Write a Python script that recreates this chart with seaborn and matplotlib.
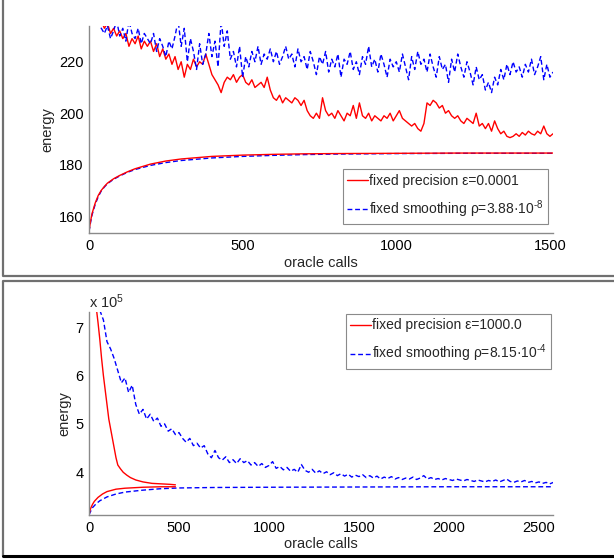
import numpy as np
import pandas as pd
import matplotlib
matplotlib.use("Agg")
import matplotlib.pyplot as plt
from matplotlib.lines import Line2D
import seaborn as sns

# ---- data ----
# top panel: noisy primal curves sampled every 10 oracle calls, from 30 to 1510
top_upper_start, top_step = 30, 10
top_red_upper = [
    238, 236, 233, 235, 231, 233, 230,
    232, 229, 231, 226, 229, 227, 230, 225, 228, 226,
    228, 224, 227, 222, 225, 221, 223, 219, 222, 217,
    220, 214, 219, 217, 221, 218, 220, 219, 223, 219,
    215, 213, 211, 208, 212, 214, 213, 215, 212, 214,
    215, 212, 211, 213, 210, 211, 212, 210, 214, 209,
    206, 205, 207, 204, 206, 205, 204, 206, 205, 203,
    205, 201, 199, 198, 200, 198, 206, 201, 199, 200,
    198, 201, 199, 197, 200, 199, 203, 198, 204, 199,
    198, 200, 197, 199, 198, 197, 199, 198, 200, 197,
    199, 201, 198, 197, 196, 195, 196, 194, 193, 196,
    204, 203, 205, 204, 202, 203, 200, 201, 199, 198,
    199, 197, 196, 198, 197, 196, 200, 195, 196, 194,
    196, 193, 197, 194, 192, 193, 191, 190.5, 191, 192,
    191, 192.5, 191.5, 193, 192, 191.5, 193, 192, 195, 192,
    191, 192,
]
top_blue_upper = [
    236, 233, 231, 234, 229, 232, 236,
    230, 233, 228, 236, 231, 229, 233, 227, 231, 229,
    227, 231, 224, 229, 226, 222, 228, 225, 230, 236,
    226, 233, 220, 229, 224, 217, 227, 219, 223, 231,
    222, 228, 218, 236, 226, 232, 221, 224, 218, 226,
    214, 222, 218, 224, 220, 226, 219, 223, 221, 225,
    220, 224, 219, 222, 226, 221, 223, 218, 225, 220,
    222, 217, 224, 220, 215, 222, 219, 224, 216, 221,
    218, 223, 214, 221, 219, 224, 217, 220, 215, 222,
    219, 226, 218, 221, 216, 223, 219, 214, 221, 218,
    220, 216, 223, 218, 213, 222, 217, 224, 219, 221,
    216, 223, 218, 214, 222, 217, 219, 212, 221, 216,
    223, 218, 214, 220, 216, 211, 218, 213, 215, 209,
    212, 208, 214, 211, 217, 213, 219, 215, 220, 216,
    218, 214, 219, 216, 221, 215, 218, 222, 213, 219,
    214, 216,
]
top_lower_x = [0, 5, 10, 20, 30, 40, 50, 60, 80, 100, 125, 150, 200, 250,
               300, 400, 500, 600, 700, 800, 1000, 1200, 1510]
top_red_lower = [154, 158, 161, 165, 168, 170, 171.5, 172.8, 174.5, 175.8, 177.2,
                 178.4, 180.2, 181.4, 182.2, 183.2, 183.7, 184.0, 184.2, 184.3,
                 184.4, 184.5, 184.5]
top_blue_lower = [154, 157.5, 160.5, 164.5, 167.5, 169.8, 171.3, 172.6, 174.3,
                  175.6, 177.0, 178.1, 179.7, 180.8, 181.6, 182.6, 183.2, 183.6,
                  183.9, 184.1, 184.3, 184.4, 184.4]

# bottom panel (energy in units of 1e5)
bot_red_upper_x = [42, 50, 60, 70, 80, 90, 100, 110, 120, 130, 140, 150, 160,
                   175, 190, 210, 230, 260, 300, 350, 400, 450, 480]
bot_red_upper = [7.35, 7.1, 6.75, 6.35, 6.0, 5.7, 5.4, 5.1, 4.9, 4.7, 4.5, 4.3,
                 4.15, 4.07, 4.0, 3.94, 3.89, 3.84, 3.80, 3.77, 3.76, 3.75, 3.74]
bot_red_lower_x = [0, 5, 10, 20, 30, 50, 75, 100, 150, 200, 250, 300, 400, 480]
bot_red_lower = [3.12, 3.2, 3.26, 3.34, 3.40, 3.48, 3.55, 3.60, 3.65, 3.67,
                 3.68, 3.69, 3.70, 3.70]
bot_blue_lower_x = [0, 10, 20, 40, 60, 100, 150, 200, 300, 400, 500, 700, 1000,
                    1500, 2000, 2580]
bot_blue_lower = [3.12, 3.2, 3.27, 3.35, 3.41, 3.49, 3.55, 3.59, 3.63, 3.66,
                  3.675, 3.685, 3.69, 3.695, 3.70, 3.70]
bot_blue_start, bot_step = 60, 20
bot_blue_upper = [
    7.35, 7.15, 6.7, 6.55, 6.35, 6.1, 5.85, 5.95, 5.65, 5.8,
    5.4, 5.2, 5.3, 5.1, 5.2, 5.05, 5.12, 4.95, 5.0, 4.85,
    4.9, 4.78, 4.82, 4.7, 4.62, 4.7, 4.55, 4.6, 4.5, 4.55,
    4.38, 4.3, 4.45, 4.3, 4.25, 4.32, 4.2, 4.26, 4.18, 4.28,
    4.2, 4.24, 4.15, 4.2, 4.12, 4.18, 4.1, 4.14, 4.22, 4.08,
    4.12, 4.05, 4.1, 4.02, 4.06, 4.0, 4.16, 4.04, 4.0, 4.06,
    3.98, 4.03, 3.97, 4.01, 3.95, 3.99, 3.93, 3.97, 3.92, 3.96,
    3.9, 3.94, 3.91, 3.95, 3.89, 3.93, 3.88, 3.92, 3.86, 3.9,
    3.87, 3.91, 3.86, 3.89, 3.85, 3.88, 3.86, 3.9, 3.85, 3.88,
    3.93, 3.86, 3.89, 3.85, 3.87, 3.84, 3.87, 3.85, 3.83, 3.86,
    3.84, 3.82, 3.85, 3.83, 3.81, 3.84, 3.82, 3.8, 3.83, 3.81,
    3.84, 3.8, 3.83, 3.86, 3.81, 3.79, 3.82, 3.8, 3.83, 3.79,
    3.81, 3.78, 3.8, 3.77, 3.79, 3.76, 3.79,
]

top_labels = ["fixed precision \u03b5=0.0001",
              "fixed smoothing \u03c1=3.88\u00b710$^{\\text{-8}}$"]
bot_labels = ["fixed precision \u03b5=1000.0",
              "fixed smoothing \u03c1=8.15\u00b710$^{\\text{-4}}$"]

# ---- style ----
sns.set_theme(style="white")
plt.rcParams['font.family'] = ['Liberation Sans', 'DejaVu Sans']
plt.rcParams['mathtext.fontset'] = 'custom'
plt.rcParams['mathtext.rm'] = 'Liberation Sans'
plt.rcParams['mathtext.it'] = 'Liberation Sans:italic'

RED = '#ff0000'
BLUE = '#0000ff'
GRAY = '#8a8a8a'
DASH = (3.5, 2)

W, H = 614, 560
fig = plt.figure(figsize=(W / 100, H / 100), dpi=100)


def px_axes(l, t, r, b):
    return fig.add_axes([l / W, 1 - b / H, (r - l) / W, (b - t) / H])


def arange_for(start, step, vals):
    return np.arange(len(vals)) * step + start


def style_axes(ax):
    sns.despine(ax=ax)
    for s in ['left', 'bottom']:
        ax.spines[s].set_color(GRAY)
        ax.spines[s].set_linewidth(1.0)
    ax.tick_params(direction='in', length=4, width=0.8, color=GRAY,
                   labelsize=10.5, labelcolor='black', pad=4)
    ax.set_xlabel('oracle calls', fontsize=10.5, labelpad=2)
    ax.set_ylabel('energy', fontsize=10.5, labelpad=3)


def draw(ax, x, y, color, dashed):
    d = pd.DataFrame({'x': x, 'y': y})
    sns.lineplot(data=d, x='x', y='y', ax=ax, color=color, lw=1.0,
                 legend=False, estimator=None, sort=False)
    if dashed:
        ax.lines[-1].set_dashes(DASH)


def add_legend(ax, labels, loc, anchor):
    handles = [Line2D([], [], color=RED, lw=1.0),
               Line2D([], [], color=BLUE, lw=1.0, dashes=DASH)]
    leg = ax.legend(handles, labels, loc=loc, bbox_to_anchor=anchor,
                    borderaxespad=0, fancybox=False, edgecolor=GRAY, framealpha=1,
                    fontsize=10, handlelength=1.5, handletextpad=0.08,
                    labelspacing=0.75, borderpad=0.32)
    leg.get_frame().set_linewidth(0.8)


# ---- top panel ----
ax1 = px_axes(89, 26, 553, 233.3)
draw(ax1, arange_for(top_upper_start, top_step, top_red_upper), top_red_upper, RED, False)
draw(ax1, arange_for(top_upper_start, top_step, top_blue_upper), top_blue_upper, BLUE, True)
draw(ax1, top_lower_x, top_blue_lower, BLUE, True)
draw(ax1, top_lower_x, top_red_lower, RED, False)
ax1.set_xlim(0, 1510)
ax1.set_ylim(153.3, 233.9)
ax1.set_xticks([0, 500, 1000, 1500])
ax1.set_yticks([160, 180, 200, 220])
style_axes(ax1)
add_legend(ax1, top_labels, 'lower right', (0.989, 0.045))

# ---- bottom panel ----
ax2 = px_axes(89, 311.7, 553, 515)
draw(ax2, bot_red_upper_x, bot_red_upper, RED, False)
draw(ax2, arange_for(bot_blue_start, bot_step, bot_blue_upper), bot_blue_upper, BLUE, True)
draw(ax2, bot_blue_lower_x, bot_blue_lower, BLUE, True)
draw(ax2, bot_red_lower_x, bot_red_lower, RED, False)
ax2.set_xlim(0, 2578)
ax2.set_ylim(3.116, 7.32)
ax2.set_xticks([0, 500, 1000, 1500, 2000, 2500])
ax2.set_yticks([4, 5, 6, 7])
style_axes(ax2)
ax2.text(0, 1.004, 'x 10$^5$', transform=ax2.transAxes, ha='left', va='bottom',
         fontsize=10.5)
add_legend(ax2, bot_labels, 'upper right', (0.9957, 0.989))

# ---- panel frames ----
def fline(xs, ys, color='#707070', lw=1.6):
    fig.add_artist(Line2D([x / W for x in xs], [1 - y / H for y in ys],
                          color=color, lw=lw, transform=fig.transFigure))


fline([3, 3, 614], [0, 276, 276])
fline([614, 3, 3], [281, 281, 556])
fline([3, 614], [556, 556], color='black', lw=2.2)

fig.savefig('out.png', dpi=100)
